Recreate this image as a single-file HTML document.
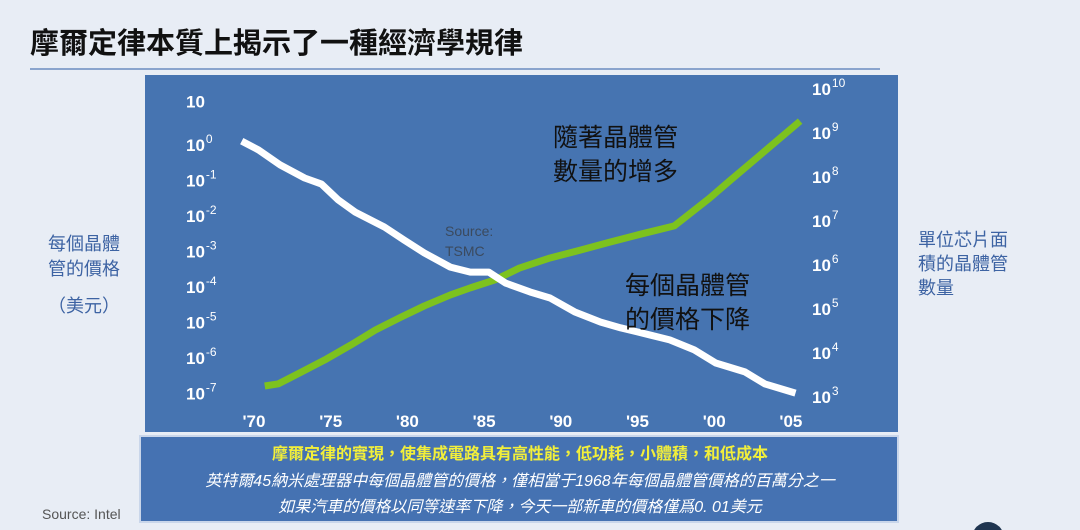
<!DOCTYPE html>
<html><head><meta charset="utf-8">
<style>
body{margin:0;width:1080px;height:530px;overflow:hidden;background:#e8edf5;font-family:"Liberation Sans","Noto Sans CJK TC",sans-serif;}
svg{display:block}
.cjk{font-family:"Liberation Sans","Noto Sans CJK TC",sans-serif}
</style></head><body>
<svg id="c" width="1080" height="530">
<text x="30" y="53" font-size="29" font-weight="bold" fill="#111" class="cjk">摩爾定律本質上揭示了一種經濟學規律</text>
<line x1="30" y1="69" x2="880" y2="69" stroke="#6b8cc0" stroke-width="1.5"/>
<rect x="145" y="75" width="753" height="357" fill="#4674b1"/>
<rect x="140" y="436" width="758" height="86" fill="#4572b2" stroke="#c9d6ea" stroke-width="2"/>
<g id="axes"></g>
<g id="series"></g>
<text x="445" y="236" font-size="14" fill="#3b4a5e"><tspan x="445">Source:</tspan><tspan x="445" dy="20">TSMC</tspan></text>
<g class="cjk" font-size="25" fill="#111">
<text x="553" y="146">隨著晶體管</text><text x="553" y="180">數量的增多</text></g>
<g class="cjk" font-size="25" fill="#111">
<text x="625" y="294">每個晶體管</text><text x="625" y="328">的價格下降</text></g>
<g class="cjk" font-size="18" fill="#3d63a3">
<text x="48" y="250">每個晶體</text><text x="48" y="275">管的價格</text><text x="48" y="312">（美元）</text></g>
<g class="cjk" font-size="18" fill="#3d63a3">
<text x="918" y="246">單位芯片面</text><text x="918" y="270">積的晶體管</text><text x="918" y="294">數量</text></g>
<g class="cjk" text-anchor="middle">
<text x="520" y="459" font-size="16" font-weight="bold" fill="#f2ef3a">摩爾定律的實現，使集成電路具有高性能，低功耗，小體積，和低成本</text>
<text x="520" y="486" font-size="16" font-style="italic" fill="#fff">英特爾45納米處理器中每個晶體管的價格，僅相當于1968年每個晶體管價格的百萬分之一</text>
<text x="520" y="512" font-size="16" font-style="italic" fill="#fff">如果汽車的價格以同等速率下降，今天一部新車的價格僅爲0. 01美元</text></g>
<text x="42" y="519" font-size="14" fill="#555">Source: Intel</text>
<circle cx="988" cy="538" r="16" fill="#1f3550"/>
</svg>
<script>
const years=["'70","'75","'80","'85","'90","'95","'00","'05"];
const yearVals=[1970,1975,1980,1985,1990,1995,2000,2005];
const leftExps=[1,0,-1,-2,-3,-4,-5,-6,-7];
const rightExps=[10,9,8,7,6,5,4,3];
const priceYears=[1969.2,1970.3,1971.7,1973.3,1974.4,1975.5,1976.6,1978.5,1979.8,1981.1,1982.8,1984.1,1985.3,1986.4,1988.0,1989.3,1990.9,1992.6,1993.9,1995.8,1997.1,1998.7,2000.1,2002.0,2003.3,2005.3];
const priceExp=[0.11,-0.14,-0.56,-0.93,-1.10,-1.55,-1.89,-2.31,-2.68,-3.04,-3.44,-3.58,-3.58,-3.89,-4.14,-4.31,-4.70,-4.99,-5.15,-5.35,-5.49,-5.77,-6.14,-6.39,-6.73,-6.99];
const countYears=[1970.7,1971.6,1973.0,1974.6,1976.3,1977.9,1979.5,1981.1,1982.8,1984.1,1985.7,1987.3,1989.3,1991.3,1993.2,1995.2,1997.4,1999.7,2001.0,2003.0,2005.6];
const countExp=[3.25,3.30,3.55,3.84,4.18,4.52,4.80,5.07,5.32,5.48,5.66,5.93,6.16,6.34,6.52,6.70,6.89,7.52,7.91,8.50,9.27];
const NS="http://www.w3.org/2000/svg";
const X=y=>254+(y-1970)*15.34;
const YL=e=>145-35.5*e;
const YR=e=>397-44*(e-3);
const axes=document.getElementById('axes'),series=document.getElementById('series');
function mk(t,p,a){const el=document.createElementNS(NS,t);for(const k in a)el.setAttribute(k,a[k]);p.appendChild(el);return el;}
years.forEach((lab,i)=>{const t=mk('text',axes,{x:X(yearVals[i]),y:427,'font-size':17,'font-weight':'bold',fill:'#fff','text-anchor':'middle'});t.textContent=lab;

});
leftExps.forEach(e=>{const t=mk('text',axes,{x:186,y:YL(e)+(e===1?-2:6),'font-size':17,'font-weight':'bold',fill:'#fff'});


if(e===1){t.textContent='10';}else{t.textContent='10';const s=mk('tspan',t,{dy:-8,dx:1,'font-size':12,'font-weight':'normal'});s.textContent=e===0?'0':'-'+(-e);}});
rightExps.forEach(e=>{const t=mk('text',axes,{x:812,y:YR(e)+6,'font-size':17,'font-weight':'bold',fill:'#fff'});


t.textContent='10';const s=mk('tspan',t,{dy:-8,dx:1,'font-size':12,'font-weight':'normal'});s.textContent=String(e);});
const gp=mk('polyline',series,{points:countYears.map((y,i)=>X(y)+','+YR(countExp[i])).join(' '),fill:'none',stroke:'#7dc21e','stroke-width':7,'stroke-linejoin':'round'});


const wp=mk('polyline',series,{points:priceYears.map((y,i)=>X(y)+','+YL(priceExp[i])).join(' '),fill:'none',stroke:'#fff','stroke-width':7,'stroke-linejoin':'round'});


</script>
</body></html>
